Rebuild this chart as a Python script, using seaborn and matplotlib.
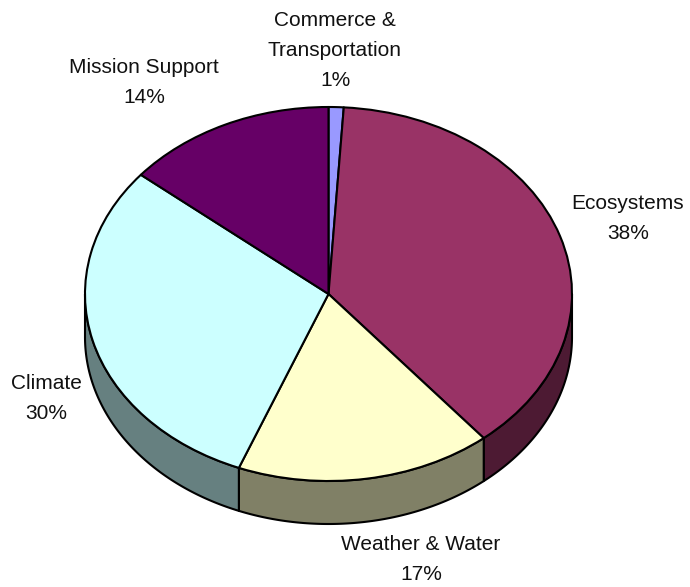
import numpy as np
import matplotlib.pyplot as plt
import seaborn as sns

# Data
names = ["Commerce &\nTransportation", "Ecosystems", "Weather & Water", "Climate", "Mission Support"]
values = [1, 38, 17, 30, 14]
hex_colors = ["#9999ff", "#993366", "#ffffcc", "#ccffff", "#660066"]

sns.set_theme(style="white")
plt.rcParams['font.family'] = ['Liberation Sans', 'DejaVu Sans']
palette = sns.color_palette(hex_colors)
side_palette = [tuple(c * 0.5 for c in col) for col in palette]

W, H = 690, 587
cx, cy = 328.5, 294      # pie centre in pixels
rx, ry = 243.5, 187      # radii in pixels
depth = 43 / ry
lw = 1.5

fig = plt.figure(figsize=(W / 100, H / 100), dpi=100)
ax = fig.add_axes([0, 0, 1, 1])

# Top face
ax.pie(values, colors=palette, startangle=90, counterclock=False,
       wedgeprops=dict(edgecolor="black", linewidth=lw, joinstyle="round", zorder=3))
ax.set_aspect("auto")
ax.set_xlim(-cx / rx, (W - cx) / rx)
ax.set_ylim((cy - H) / ry, cy / ry)
ax.set_axis_off()

# Side wall, only the lower half of the rim can be seen
edges = 90 - np.cumsum([0] + values) * 3.6
for i in range(len(values)):
    a1, a0 = edges[i], edges[i + 1]
    lo, hi = max(a0, -180), min(a1, 0)
    if hi <= lo:
        continue
    t = np.radians(np.linspace(lo, hi, 120))
    xs = np.cos(t)
    ys = np.sin(t)
    ax.fill(np.r_[xs, xs[::-1]], np.r_[ys, ys[::-1] - depth],
            facecolor=side_palette[i], edgecolor="black", linewidth=lw,
            joinstyle="round", zorder=1)

# Labels, positions in pixels of the last line's centre
label_px = [(335, 80), (628, 233), (421, 574), (46, 413), (144, 97)]
for name, val, (px, py) in zip(names, values, label_px):
    ax.annotate(f"{name}\n{val}%", xy=(px / W, 1 - (py + 10) / H), xycoords="figure fraction",
                ha="center", va="bottom", ma="center", fontsize=15, linespacing=1.72,
                color="#111111")

plt.savefig("out.png", dpi=100)
plt.close()
